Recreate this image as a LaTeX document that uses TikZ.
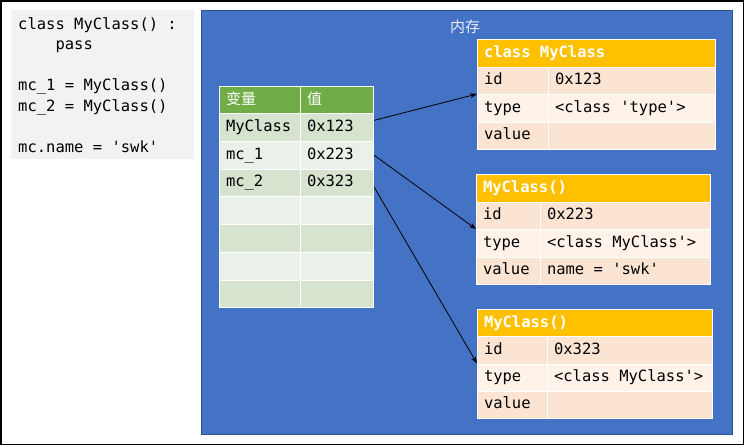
\documentclass[tikz,border=0pt]{standalone}
\usepackage{fontspec}
\setmonofont{DejaVu Sans Mono}
\newfontfamily\cjk{Noto Sans CJK SC}
\usetikzlibrary{arrows.meta,calc}
\definecolor{memblue}{HTML}{4472C4}
\definecolor{memedge}{HTML}{2F528F}
\definecolor{codegrey}{HTML}{F2F2F2}
\definecolor{tabhead}{HTML}{70AD47}
\definecolor{tabdark}{HTML}{D5E3CF}
\definecolor{tablight}{HTML}{EBF1E9}
\definecolor{objhead}{HTML}{FFC000}
\definecolor{objdark}{HTML}{FCE4D3}
\definecolor{objlight}{HTML}{FEF2E9}
\newcommand{\codefont}{\ttfamily\fontsize{15.5}{20.6}\selectfont}
\newcommand{\cjkfont}{\cjk\fontsize{15}{18}\selectfont}

\begin{document}
\begin{tikzpicture}[x=1pt,y=-1pt,
    cell/.style={draw=white,line width=1pt,anchor=north west,inner xsep=6.5pt,inner ysep=0pt,
      text height=11pt,text depth=3pt,align=left,font=\codefont,
      execute at begin node={\spaceskip=0pt\xspaceskip=0pt\relax}},
    ptr/.style={-{Stealth[length=7pt,width=5pt]},line width=0.8pt,black}]
  \useasboundingbox (0,0) rectangle (744,445);
  \draw[line width=1.5pt] (0.75,0.75) rectangle (743.25,444.25);
  % code
  \fill[codegrey] (11,10) rectangle (194,159);
  \node[anchor=north west,inner sep=0pt,align=left,font=\codefont] (code) at (18,17)
    {class MyClass() :\\ \phantom{xxxx}pass\\ \\ mc\_1 = MyClass()\\ mc\_2 = MyClass()\\ \\ mc.name = 'swk'};
  % memory
  \draw[fill=memblue,draw=memedge,line width=1pt] (201,10) rectangle (732,434);
  \node[text=white!88!memblue,font=\cjkfont] (mem) at (465,27) {内存};
  % variable table
  \node[cell,fill=tabhead,text width=68pt,minimum height=27pt,text=white,font=\cjkfont] (th1) at (219,86) {变量};
  \node[cell,fill=tabhead,text width=60pt,minimum height=27pt,text=white,font=\cjkfont] (th2) at (300,86) {值};
  \node[cell,fill=tabdark,text width=68pt,minimum height=27.75pt] (k1) at (219,113) {MyClass};
  \node[cell,fill=tabdark,text width=60pt,minimum height=27.75pt] (v1) at (300,113) {0x123};
  \node[cell,fill=tablight,text width=68pt,minimum height=27.75pt] (k2) at (219,140.75) {mc\_1};
  \node[cell,fill=tablight,text width=60pt,minimum height=27.75pt] (v2) at (300,140.75) {0x223};
  \node[cell,fill=tabdark,text width=68pt,minimum height=27.75pt] (k3) at (219,168.5) {mc\_2};
  \node[cell,fill=tabdark,text width=60pt,minimum height=27.75pt] (v3) at (300,168.5) {0x323};
  \foreach \i/\y/\c in {4/196.25/tablight,5/224/tabdark,6/251.75/tablight,7/279.5/tabdark}{
    \node[cell,fill=\c,text width=68pt,minimum height=27.75pt] (k\i) at (219,\y) {};
    \node[cell,fill=\c,text width=60pt,minimum height=27.75pt] (v\i) at (300,\y) {};
  }
  % class object
  \node[cell,fill=objhead,text width=225pt,minimum height=27.5pt,text=white,font=\codefont\bfseries] (o1) at (477,39) {class MyClass};
  \node[cell,fill=objdark,text width=58pt,minimum height=27.5pt] (o1id) at (477,66.5) {id};
  \node[cell,fill=objdark,text width=154pt,minimum height=27.5pt] (o1idv) at (548,66.5) {0x123};
  \node[cell,fill=objlight,text width=58pt,minimum height=27.5pt] (o1ty) at (477,94) {type};
  \node[cell,fill=objlight,text width=154pt,minimum height=27.5pt] (o1tyv) at (548,94) {<class 'type'>};
  \node[cell,fill=objdark,text width=58pt,minimum height=27.5pt] (o1va) at (477,121.5) {value};
  \node[cell,fill=objdark,text width=154pt,minimum height=27.5pt] (o1vav) at (548,121.5) {};
  % instance mc_1
  \node[cell,fill=objhead,text width=221pt,minimum height=27.5pt,text=white,font=\codefont\bfseries] (o2) at (476,174) {MyClass()};
  \node[cell,fill=objdark,text width=51pt,minimum height=27.5pt] (o2id) at (476,201.5) {id};
  \node[cell,fill=objdark,text width=157pt,minimum height=27.5pt] (o2idv) at (540,201.5) {0x223};
  \node[cell,fill=objlight,text width=51pt,minimum height=27.5pt] (o2ty) at (476,229) {type};
  \node[cell,fill=objlight,text width=157pt,minimum height=27.5pt] (o2tyv) at (540,229) {<class MyClass'>};
  \node[cell,fill=objdark,text width=51pt,minimum height=27.5pt] (o2va) at (476,256.5) {value};
  \node[cell,fill=objdark,text width=157pt,minimum height=27.5pt] (o2vav) at (540,256.5) {name = 'swk'};
  % instance mc_2
  \node[cell,fill=objhead,text width=222pt,minimum height=27.25pt,text=white,font=\codefont\bfseries] (o3) at (477,309) {MyClass()};
  \node[cell,fill=objdark,text width=57pt,minimum height=27.25pt] (o3id) at (477,336.25) {id};
  \node[cell,fill=objdark,text width=152pt,minimum height=27.25pt] (o3idv) at (547,336.25) {0x323};
  \node[cell,fill=objlight,text width=57pt,minimum height=27.25pt] (o3ty) at (477,363.5) {type};
  \node[cell,fill=objlight,text width=152pt,minimum height=27.25pt] (o3tyv) at (547,363.5) {<class MyClass'>};
  \node[cell,fill=objdark,text width=57pt,minimum height=27.25pt] (o3va) at (477,390.75) {value};
  \node[cell,fill=objdark,text width=152pt,minimum height=27.25pt] (o3vav) at (547,390.75) {};
  % pointers
  \draw[ptr] ($(v1.east)+(0,-7)$) -- (o1ty.north west);
  \draw[ptr] (v2.east) -- (o2ty.north west);
  \draw[ptr] ($(v3.east)+(0,4)$) -- (o3ty.north west);
\end{tikzpicture}
\end{document}
